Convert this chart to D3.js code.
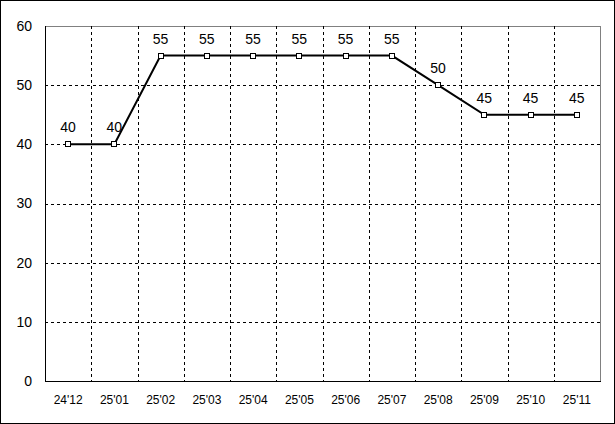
<!DOCTYPE html>
<html>
  <head>
    <meta charset="utf-8">
    <title>Monthly chart</title>
<style>
  body { margin: 0; background: #fff; }
  #viz { width: 615px; height: 424px; }
  #viz text { font-family: "Liberation Sans", Arial, sans-serif; fill: #000; }
  .grid line { stroke: #000; stroke-dasharray: 3,3; shape-rendering: crispEdges; }
</style>
  </head>
  <body>
    <div id="viz"></div>

  <script src="https://cdn.jsdelivr.net/npm/d3@7"></script>
  <script>

    var months = ["24'12","25'01","25'02","25'03","25'04","25'05","25'06","25'07","25'08","25'09","25'10","25'11"];
    var values = [40, 40, 55, 55, 55, 55, 55, 55, 50, 45, 45, 45];
    var yTicks = [0, 10, 20, 30, 40, 50, 60];

    (function() {
      var W = 615, H = 424,
          margin = {top: 26, right: 15, bottom: 43, left: 45},
          width = W - margin.left - margin.right,
          height = H - margin.top - margin.bottom

      var svg = d3.select("#viz").append("svg")
          .attr("width", W)
          .attr("height", H)

      // outer frame
      svg.append("rect")
          .attr("x", 0.5).attr("y", 0.5)
          .attr("width", W - 1).attr("height", H - 1)
          .attr("fill", "none").attr("stroke", "#000")
          .style("shape-rendering", "crispEdges")

      var g = svg.append("g")
          .attr("transform", "translate(" + margin.left + "," + margin.top + ")")

      var x = d3.scaleBand().domain(months).range([0, width])
      var y = d3.scaleLinear().domain([0, 60]).range([height, 0])

      // plot box (top/right grey)
      g.append("rect")
          .attr("x", 0.5).attr("y", 0.5)
          .attr("width", width).attr("height", height)
          .attr("fill", "none").attr("stroke", "#808080")
          .style("shape-rendering", "crispEdges")

      // horizontal grid
      g.append("g").attr("class", "grid")
        .selectAll("line")
          .data(yTicks.filter(function(t) { return t > 0 && t < 60 }))
        .enter().append("line")
          .attr("x1", 0).attr("x2", width)
          .attr("y1", function(d) { return Math.round(y(d)) + 0.5 })
          .attr("y2", function(d) { return Math.round(y(d)) + 0.5 })

      // vertical grid at band edges
      g.append("g").attr("class", "grid")
        .selectAll("line")
          .data(months.slice(1))
        .enter().append("line")
          .attr("y1", 0).attr("y2", height)
          .attr("x1", function(d) { return Math.round(x(d)) + 0.5 })
          .attr("x2", function(d) { return Math.round(x(d)) + 0.5 })

      // axes lines
      g.append("line")
          .attr("x1", 0.5).attr("x2", 0.5).attr("y1", 0).attr("y2", height + 0.5)
          .attr("stroke", "#000").style("shape-rendering", "crispEdges")
      g.append("line")
          .attr("x1", 0).attr("x2", width + 0.5).attr("y1", height + 0.5).attr("y2", height + 0.5)
          .attr("stroke", "#000").style("shape-rendering", "crispEdges")

      // y tick labels
      g.selectAll(".ylab")
          .data(yTicks)
        .enter().append("text")
          .attr("class", "ylab")
          .attr("x", -13)
          .attr("y", function(d) { return y(d) })
          .attr("dy", "0.35em")
          .attr("text-anchor", "end")
          .style("font-size", "14px")
          .text(function(d) { return d })

      // x tick labels
      g.selectAll(".xlab")
          .data(months)
        .enter().append("text")
          .attr("class", "xlab")
          .attr("x", function(d) { return x(d) + x.bandwidth() / 2 })
          .attr("y", height + 23)
          .attr("text-anchor", "middle")
          .style("font-size", "12px")
          .text(function(d) { return d })

      var cx = function(d, i) { return x(months[i]) + x.bandwidth() / 2 }

      var line = d3.line()
          .x(cx)
          .y(function(d) { return y(d) })

      g.append("path")
          .datum(values)
          .attr("d", line)
          .attr("fill", "none")
          .attr("stroke", "#000")
          .attr("stroke-width", 2)

      g.selectAll(".pt")
          .data(values)
        .enter().append("rect")
          .attr("class", "pt")
          .attr("x", function(d, i) { return Math.round(cx(d, i)) - 3 + 0.5 })
          .attr("y", function(d) { return Math.round(y(d)) - 3 + 0.5 })
          .attr("width", 5).attr("height", 5)
          .attr("fill", "#fff").attr("stroke", "#000")
          .style("shape-rendering", "crispEdges")

      g.selectAll(".vlab")
          .data(values)
        .enter().append("text")
          .attr("class", "vlab")
          .attr("x", cx)
          .attr("y", function(d) { return y(d) - 12 })
          .attr("text-anchor", "middle")
          .style("font-size", "14px")
          .text(function(d) { return d })

    })();

  </script>
  </body>
</html>
